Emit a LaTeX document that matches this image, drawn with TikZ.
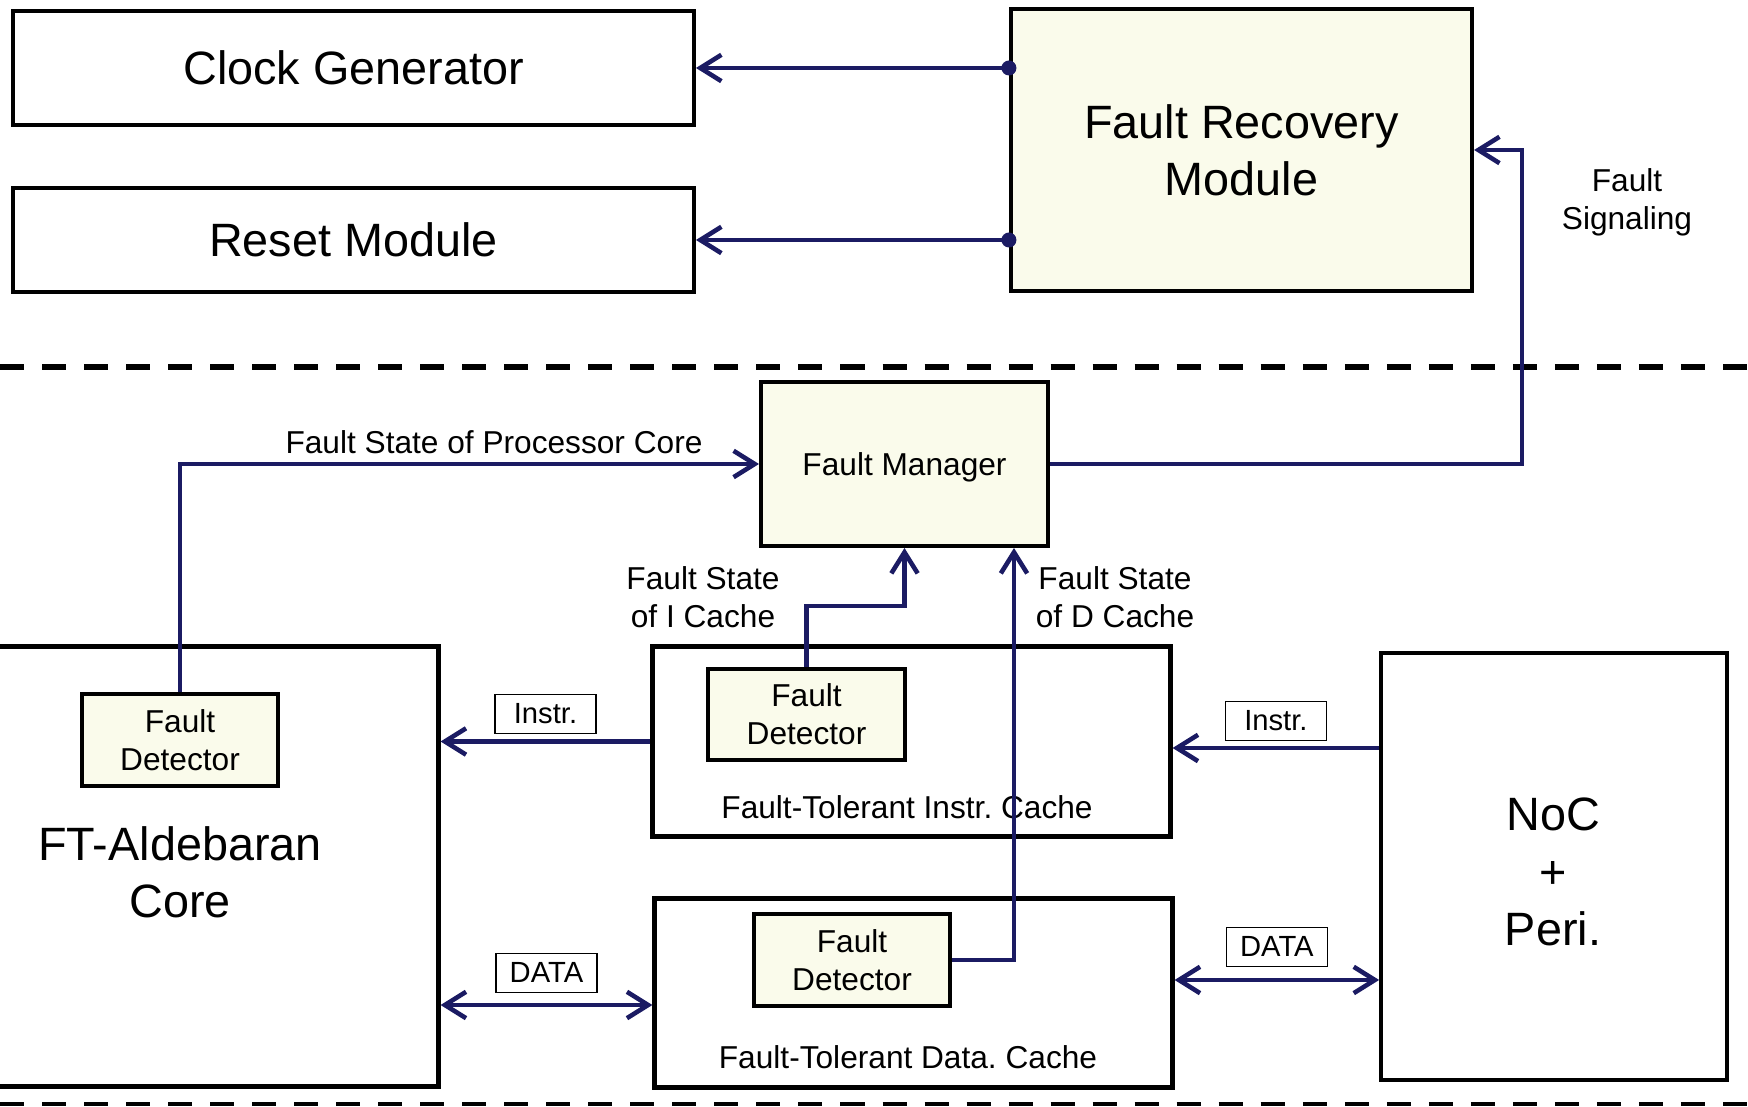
\documentclass[tikz,border=0pt]{standalone}
\usepackage{fontspec}
\setmainfont{Liberation Sans}
\usetikzlibrary{arrows.meta}
\definecolor{navyline}{RGB}{27,27,99}
\definecolor{cream}{RGB}{250,251,235}

\begin{document}
\frenchspacing
\begin{tikzpicture}[x=0.01cm, y=-0.01cm,
  blockbox/.style={rectangle, draw=black, line width=1pt, inner sep=0pt, align=center},
  corebox/.style={rectangle, draw=black, line width=1.4pt, inner sep=0pt},
  creambox/.style={rectangle, draw=black, line width=1.1pt, fill=cream, inner sep=0pt, align=center},
  bigtext/.style={font=\fontsize{13.3}{16.3}\selectfont},
  smalltext/.style={font=\fontsize{9}{10.8}\selectfont, align=center, inner sep=0pt},
  tagbox/.style={rectangle, draw=black, line width=0.4pt, fill=white, text=black, minimum width=1.01cm,
    minimum height=0.39cm, inner sep=0pt, font=\fontsize{8.3}{10}\selectfont},
  sigline/.style={-{Straight Barb[length=6pt,width=7.5pt]}, navyline, line width=1.3pt},
  busline/.style={{Straight Barb[length=6pt,width=7.5pt]}-{Straight Barb[length=6pt,width=7.5pt]},
    navyline, line width=1.3pt},
  sepline/.style={black, line width=1.7pt, dash pattern=on 0.24cm off 0.18cm}
]
\useasboundingbox (0,0) rectangle (1748,1107);

% recovery side
\node[blockbox, bigtext, minimum width=6.81cm, minimum height=1.14cm] (clockgen) at (353.5,68) {Clock Generator};
\node[blockbox, bigtext, minimum width=6.81cm, minimum height=1.04cm] (resetmod) at (353.5,240) {Reset Module};
\node[creambox, bigtext, minimum width=4.61cm, minimum height=2.82cm] (frm) at (1241.5,150) {Fault Recovery\\Module};

\draw[sepline] (0,367) -- (1748,367);
\draw[sepline, line width=1.4pt] (0,1104) -- (1748,1104);

% processor side
\node[creambox, smalltext, text depth=0pt, minimum width=2.87cm, minimum height=1.64cm] (fm) at (904.5,464) {Fault Manager};
\node[corebox, minimum width=4.58cm, minimum height=4.39cm] (core) at (209,866.5) {};
\node[bigtext, align=center, inner sep=0pt] (coretxt) at (180,872) {FT-Aldebaran\\Core};
\node[creambox, smalltext, minimum width=1.96cm, minimum height=0.92cm] (corefd) at (180,740) {Fault\\Detector};

\node[corebox, minimum width=5.17cm, minimum height=1.89cm] (icache) at (911.5,741.5) {};
\node[smalltext] (icachetxt) at (907,807) {Fault-Tolerant Instr. Cache};
\node[creambox, smalltext, minimum width=1.97cm, minimum height=0.91cm] (icfd) at (806.5,714.5) {Fault\\Detector};

\node[corebox, minimum width=5.17cm, minimum height=1.88cm] (dcache) at (913.5,993) {};
\node[smalltext] (dcachetxt) at (908,1057) {Fault-Tolerant Data. Cache};
\node[creambox, smalltext, minimum width=1.96cm, minimum height=0.92cm] (dcfd) at (852,960) {Fault\\Detector};

\node[blockbox, minimum width=3.46cm, minimum height=4.27cm] (noc) at (1554,866.5) {};
\node[bigtext, align=center, inner sep=0pt] (noctxt) at (1553,872) {NoC\\+\\Peri.};

% recovery signals
\draw[sigline] (frm.west |- clockgen.east) -- (clockgen.east);
\draw[sigline] (frm.west |- resetmod.east) -- (resetmod.east);
\fill[navyline] (frm.west |- clockgen.east) circle (0.075cm);
\fill[navyline] (frm.west |- resetmod.east) circle (0.075cm);
\draw[sigline] (fm.east) -| ([xshift=0.48cm]frm.east) -- (frm.east);
\node[smalltext] (sigtxt) at (1627,202) {Fault\\Signaling};

% fault states
\draw[sigline] (corefd.north) |- (fm.west);
\node[smalltext] (coretag) at (494,442) {Fault State of Processor Core};
\draw[sigline] (icfd.north) -- ++(0,-61) -| (fm.south);
\draw[sigline] (dcfd.east) -| ([xshift=-0.36cm]fm.south east);
\node[smalltext] (istate) at (703,597) {Fault State\\of I Cache};
\node[smalltext] (dstate) at (1115,597) {Fault State\\of D Cache};

% instruction and data paths
\draw[sigline] (icache.west) -- (core.east |- icache.west) node[tagbox, midway, above=0.075cm] (itagl) {Instr.};
\coordinate (ir) at ([yshift=-0.065cm]icache.east);
\draw[sigline] (noc.west |- ir) -- (ir) node[tagbox, midway, above=0.07cm] (itagr) {Instr.};
\coordinate (dl) at ([yshift=-0.12cm]dcache.west);
\draw[busline] (core.east |- dl) -- (dl) node[tagbox, midway, above=0.12cm] (dtagl) {DATA};
\coordinate (dr) at ([yshift=0.13cm]dcache.east);
\draw[busline] (dr) -- (noc.west |- dr) node[tagbox, midway, above=0.13cm] (dtagr) {DATA};

\end{tikzpicture}
\end{document}
